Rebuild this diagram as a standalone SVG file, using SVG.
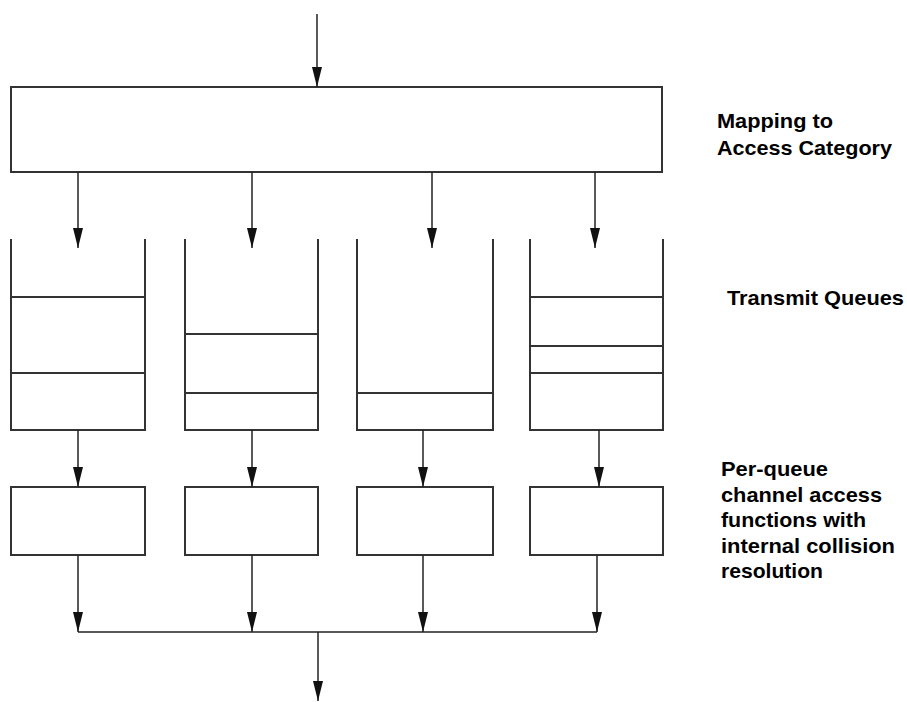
<svg xmlns="http://www.w3.org/2000/svg" width="907" height="702" viewBox="0 0 907 702">
<style>
.box{fill:#fff;stroke:#333;stroke-width:2}
.q{fill:none;stroke:#333;stroke-width:2}
.c{fill:none;stroke:#222;stroke-width:1.5}
.arr{marker-end:url(#ah)}
.lbl{font-family:"Liberation Sans",Arial,sans-serif;font-weight:bold;font-size:21px;fill:#000}
</style>
<defs>
<marker id="ah" viewBox="0 0 20 12" refX="20" refY="6" markerWidth="20" markerHeight="12" markerUnits="userSpaceOnUse" orient="auto">
<path d="M0,1 L20,6 L0,11 z" fill="#111"/>
</marker>
</defs>
<rect width="907" height="702" fill="#fff"/>
<g id="mapping"><rect class="box" x="11" y="87" width="651" height="85"/></g>
<g id="queue1"><path class="q" d="M11,239 V430 H145 V239 M11,297 H145 M11,373 H145"/></g>
<g id="queue2"><path class="q" d="M185,239 V430 H318 V239 M185,334 H318 M185,393 H318"/></g>
<g id="queue3"><path class="q" d="M357,239 V430 H493 V239 M357,393 H493"/></g>
<g id="queue4"><path class="q" d="M530,239 V430 H663 V239 M530,297 H663 M530,346 H663 M530,373 H663"/></g>
<g id="func1"><rect class="box" x="11" y="487" width="134" height="68"/></g>
<g id="func2"><rect class="box" x="185" y="487" width="133" height="68"/></g>
<g id="func3"><rect class="box" x="357" y="487" width="136" height="68"/></g>
<g id="func4"><rect class="box" x="530" y="487" width="133" height="68"/></g>
<g id="connectors">
<line class="c arr" x1="317" y1="14" x2="317" y2="87"/>
<line class="c arr" x1="78" y1="172" x2="78" y2="248"/>
<line class="c arr" x1="252" y1="172" x2="252" y2="248"/>
<line class="c arr" x1="432" y1="172" x2="432" y2="248"/>
<line class="c arr" x1="595" y1="172" x2="595" y2="248"/>
<line class="c arr" x1="78" y1="430" x2="78" y2="487"/>
<line class="c arr" x1="252" y1="430" x2="252" y2="487"/>
<line class="c arr" x1="423" y1="430" x2="423" y2="487"/>
<line class="c arr" x1="599" y1="430" x2="599" y2="487"/>
<line class="c arr" x1="78" y1="555" x2="78" y2="632"/>
<line class="c arr" x1="252" y1="555" x2="252" y2="632"/>
<line class="c arr" x1="423" y1="555" x2="423" y2="632"/>
<line class="c arr" x1="597" y1="555" x2="597" y2="632"/>
<line class="c" x1="78" y1="632" x2="597" y2="632"/>
<line class="c arr" x1="318" y1="632" x2="318" y2="701"/>
</g>
<g id="labels">
<text class="lbl" x="717" y="128" textLength="116" lengthAdjust="spacingAndGlyphs">Mapping to</text>
<text class="lbl" x="717" y="155" textLength="175" lengthAdjust="spacingAndGlyphs">Access Category</text>
<text class="lbl" x="727" y="305" textLength="177" lengthAdjust="spacingAndGlyphs">Transmit Queues</text>
<text class="lbl" x="721" y="476" textLength="107" lengthAdjust="spacingAndGlyphs">Per-queue</text>
<text class="lbl" x="721" y="502" textLength="161" lengthAdjust="spacingAndGlyphs">channel access</text>
<text class="lbl" x="721" y="527" textLength="145" lengthAdjust="spacingAndGlyphs">functions with</text>
<text class="lbl" x="721" y="553" textLength="174" lengthAdjust="spacingAndGlyphs">internal collision</text>
<text class="lbl" x="721" y="578" textLength="102" lengthAdjust="spacingAndGlyphs">resolution</text>
</g>
</svg>
